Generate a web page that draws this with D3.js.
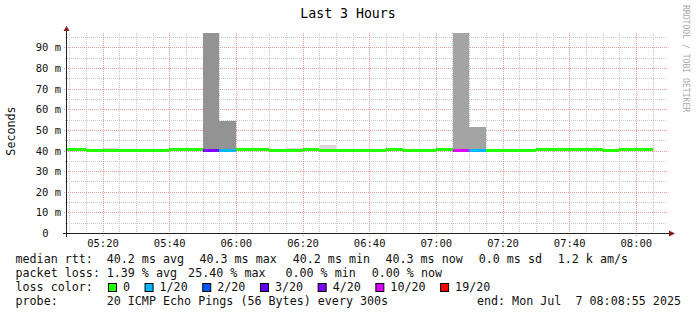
<!DOCTYPE html>
<html>
<head>
<meta charset="utf-8">
<script src="https://cdn.jsdelivr.net/npm/d3@7"></script>
<style>
  body { margin: 0; background: #fff; }
  svg { display: block; }
  text { font-family: 'DejaVu Sans Mono', monospace; white-space: pre; }
</style>
</head>
<body>
<div id="chart"></div>
<script>
// 5 minute bins (start time of each bin)
const binStarts = ["05:05","05:10","05:15","05:20","05:25","05:30","05:35","05:40","05:45","05:50","05:55","06:00",
                   "06:05","06:10","06:15","06:20","06:25","06:30","06:35","06:40","06:45","06:50","06:55","07:00",
                   "07:05","07:10","07:15","07:20","07:25","07:30","07:35","07:40","07:45","07:50","07:55","08:00"];
// median rtt in ms
const medianMs = [40.3,40.3,40.0,40.0,40.0,40.0,40.0,40.3,40.3,40.0,40.0,40.3,
                  40.3,40.0,40.0,40.3,40.0,40.0,40.0,40.0,40.3,40.0,40.0,40.3,
                  40.0,40.0,40.0,40.0,40.0,40.3,40.3,40.3,40.3,40.0,40.3,40.3];
// pings lost out of 20
const lossPings = [0,0,0,0,0,0,0,0,0,4,1,0,
                   0,0,0,0,0,0,0,0,0,0,0,0,
                   10,1,0,0,0,0,0,0,0,0,0,0];
// top of the smoke (max rtt, ms), null = hidden behind median
const smokeMaxMs = [null,null,null,41.0,null,null,null,null,null,130,54.5,null,
                    null,null,41.4,null,42.7,null,null,null,null,null,null,null,
                    130,51.4,null,null,null,null,null,null,null,null,null,null];
// how many smoke layers overlap in the bin
const smokeDepth = [0,0,0,1,0,0,0,0,0,9,9,0,
                    0,0,1,0,1,0,0,0,0,0,0,0,
                    7,7,0,0,0,0,0,0,0,0,0,0];

const yTicksMs = [0,10,20,30,40,50,60,70,80,90];
const xTickLabels = ["05:20","05:40","06:00","06:20","06:40","07:00","07:20","07:40","08:00"];
const lossLevels = [0,1,2,3,4,10,19];
const lossLabels = ["0","1/20","2/20","3/20","4/20","10/20","19/20"];
const lossColors = ["#26ff00","#00b8ff","#0059ff","#5e00ff","#7e00ff","#dd00ff","#ff0000"];

const rttItems = ["40.2 ms avg","40.3 ms max","40.2 ms min","40.3 ms now","0.0 ms sd","1.2 k am/s"];
const lossItems = ["1.39 % avg","25.40 % max","0.00 % min","0.00 % now"];
const probeText = "20 ICMP Echo Pings (56 Bytes) every 300s";
const endText = "end: Mon Jul  7 08:08:55 2025";

const W = 697, H = 315;
const plot = { left: 67, right: 667, top: 33, bottom: 233 };
const day = "2025-07-07 ";
const parse = d3.timeParse("%Y-%m-%d %H:%M:%S");
const t = s => parse(day + (s.length === 5 ? s + ":00" : s));

const svg = d3.select("#chart").append("svg")
    .attr("width", W).attr("height", H);
svg.append("rect").attr("width", W).attr("height", H).attr("fill", "#fff");

const x = d3.scaleTime()
    .domain([t("05:09:21"), t("08:09:21")])
    .range([plot.left, plot.right]);
const y = d3.scaleLinear()
    .domain([0, 0.097])
    .range([plot.bottom, plot.top]);

svg.append("clipPath").attr("id", "clip")
  .append("rect")
    .attr("x", plot.left).attr("y", plot.top)
    .attr("width", plot.right - plot.left).attr("height", plot.bottom - plot.top);

// grid
const grid = svg.append("g");
const minorTimes = d3.timeMinute.every(5).range(t("05:10"), t("08:09:21"));
const minorVals = d3.range(1, 20).map(i => i * 0.005);

grid.selectAll(".vminor").data(minorTimes.filter(d => d.getMinutes() % 20 !== 0))
  .enter().append("line")
    .attr("x1", d => Math.round(x(d)) + 0.5).attr("x2", d => Math.round(x(d)) + 0.5)
    .attr("y1", plot.top).attr("y2", plot.bottom + 2)
    .attr("stroke", "#c8c8c8").attr("stroke-dasharray", "1,1");
grid.selectAll(".hminor").data(minorVals.filter((d, i) => i % 2 === 0))
  .enter().append("line")
    .attr("x1", plot.left - 2).attr("x2", plot.right)
    .attr("y1", d => Math.round(y(d)) + 0.5).attr("y2", d => Math.round(y(d)) + 0.5)
    .attr("stroke", "#c8c8c8").attr("stroke-dasharray", "1,1");

const majorTimes = xTickLabels.map(s => t(s));
grid.selectAll(".vmajor").data(majorTimes)
  .enter().append("line")
    .attr("x1", d => Math.round(x(d)) + 0.5).attr("x2", d => Math.round(x(d)) + 0.5)
    .attr("y1", plot.top).attr("y2", plot.bottom + 3)
    .attr("stroke", "#eb9c9c").attr("stroke-dasharray", "1,1");
grid.selectAll(".hmajor").data(yTicksMs.slice(1))
  .enter().append("line")
    .attr("x1", plot.left - 3).attr("x2", plot.right + 1)
    .attr("y1", d => Math.round(y(d / 1000)) + 0.5).attr("y2", d => Math.round(y(d / 1000)) + 0.5)
    .attr("stroke", "#eb9c9c").attr("stroke-dasharray", "1,1");

// bins
const bins = binStarts.map((s, i) => ({
  t0: t(s), t1: d3.timeMinute.offset(t(s), 5),
  median: medianMs[i] / 1000,
  loss: lossPings[i],
  smoke: smokeMaxMs[i] == null ? null : smokeMaxMs[i] / 1000,
  depth: smokeDepth[i]
}));

const shade = d3.scaleLinear().domain([1, 10]).range(["#d8d8d8", "#8a8a8a"]);
const lossColor = d => lossColors[d3.bisectRight(lossLevels, d) - 1];

const data = svg.append("g").attr("clip-path", "url(#clip)");
data.selectAll(".smoke").data(bins.filter(d => d.smoke != null))
  .enter().append("rect")
    .attr("x", d => x(d.t0))
    .attr("width", d => x(d.t1) - x(d.t0))
    .attr("y", d => y(d.smoke))
    .attr("height", d => y(d.median) - y(d.smoke))
    .attr("fill", d => shade(d.depth))
    .attr("shape-rendering", "crispEdges");

data.selectAll(".median").data(bins)
  .enter().append("rect")
    .attr("x", d => x(d.t0))
    .attr("width", d => x(d.t1) - x(d.t0))
    .attr("y", d => Math.round(y(d.median) - 1.5))
    .attr("height", 3)
    .attr("fill", d => lossColor(d.loss))
    .attr("shape-rendering", "crispEdges");

// axes
const axisColor = "#222", arrowColor = "#8a1a1a";
svg.append("line")
    .attr("x1", plot.left - 4).attr("x2", plot.right + 3)
    .attr("y1", plot.bottom + 0.5).attr("y2", plot.bottom + 0.5)
    .attr("stroke", axisColor);
svg.append("line")
    .attr("x1", plot.left - 0.5).attr("x2", plot.left - 0.5)
    .attr("y1", plot.bottom + 4).attr("y2", plot.top - 3)
    .attr("stroke", axisColor);
svg.append("path")
    .attr("d", `M${plot.left - 3.5},${plot.top - 2} L${plot.left - 0.5},${plot.top - 7} L${plot.left + 2.5},${plot.top - 2} Z`)
    .attr("fill", arrowColor);
svg.append("path")
    .attr("d", `M${plot.right + 2},${plot.bottom - 2.5} L${plot.right + 8},${plot.bottom + 0.5} L${plot.right + 2},${plot.bottom + 3.5} Z`)
    .attr("fill", arrowColor);

// tick labels
const tickFont = "10.5px";
svg.append("g").selectAll("text").data(majorTimes)
  .enter().append("text")
    .attr("x", d => x(d) + 0.5).attr("y", 247)
    .attr("text-anchor", "middle")
    .style("font-size", tickFont).attr("fill", "#111")
    .text(d3.timeFormat("%H:%M"));

svg.append("g").selectAll("text").data(yTicksMs)
  .enter().append("text")
    .attr("x", d => d === 0 ? 48.5 : 61)
    .attr("y", d => y(d / 1000) + 4)
    .attr("text-anchor", "end")
    .style("font-size", tickFont).attr("fill", "#111")
    .text(d => d === 0 ? "0" : d + " m");

// title, y label, watermark
svg.append("text")
    .attr("x", 348).attr("y", 18).attr("text-anchor", "middle")
    .style("font-size", "13.2px").attr("fill", "#000")
    .text("Last 3 Hours");
svg.append("text")
    .attr("transform", "translate(15,131) rotate(-90)")
    .attr("text-anchor", "middle")
    .style("font-size", "11.7px").attr("fill", "#111")
    .text("Seconds");
svg.append("text")
    .attr("transform", "translate(683,5) rotate(90)")
    .style("font-size", "8.1px").attr("fill", "#aaa")
    .text("RRDTOOL / TOBI OETIKER");

// legend
const legFont = "11.7px";
const rowY = [263, 277, 291, 305];
const leg = svg.append("g").style("font-size", legFont).attr("fill", "#111");
const putRow = (yy, items, xs) => items.forEach((s, i) =>
  leg.append("text").attr("x", xs[i]).attr("y", yy).text(s));

putRow(rowY[0], ["median rtt:"].concat(rttItems), [15.5, 106.7, 199.4, 292.7, 385.4, 478.7, 557.7]);
putRow(rowY[1], ["packet loss:"].concat(lossItems), [15.5, 106.7, 188.1, 285.4, 371.7]);
putRow(rowY[2], ["loss color:"], [15.5]);
putRow(rowY[3], ["probe:", probeText], [15.5, 106.7]);
leg.append("text").attr("x", 681).attr("y", rowY[3]).attr("text-anchor", "end").text(endText);

// loss colour swatches
const charW = 7.05;
let bx = 108.5;
lossLabels.forEach((lab, i) => {
  leg.append("rect")
      .attr("x", bx).attr("y", 283.5).attr("width", 8).attr("height", 8)
      .attr("fill", lossColors[i]).attr("stroke", "#000");
  leg.append("text").attr("x", bx + 14.5).attr("y", rowY[2]).text(lab);
  bx = bx + 15 + lab.length * charW + 14.5;
});
</script>
</body>
</html>
